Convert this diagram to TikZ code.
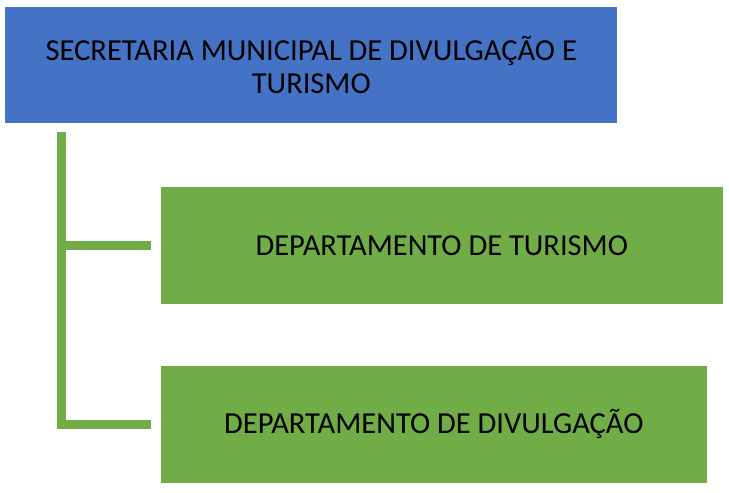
\documentclass[tikz,border=0pt]{standalone}
\usepackage{fontspec}
\setmainfont{Carlito}
\definecolor{officeblue}{HTML}{4472C4}
\definecolor{officegreen}{HTML}{70AD47}
\begin{document}
\begin{tikzpicture}[x=1pt,y=1pt,
   every node/.style={inner sep=0pt, outer sep=0pt, align=center,
                      font=\fontsize{30.5}{33}\selectfont},
   secbox/.style={fill=officeblue, minimum width=612pt, minimum height=115.4pt},
   depbox/.style={fill=officegreen, minimum height=117pt},
   ramo/.style={draw=officegreen, line width=9pt, line join=miter}]

\useasboundingbox (0,0) rectangle (729,493);

\node[secbox] (secretaria) at (311.3,428) {SECRETARIA MUNICIPAL DE DIVULGAÇÃO E\\TURISMO};
\node[depbox, minimum width=561.7pt] (turismo) at (441.8,247.5) {DEPARTAMENTO DE TURISMO};
\node[depbox, minimum width=545.7pt] (divulgacao) at (433.8,68.8) {DEPARTAMENTO DE DIVULGAÇÃO};

\coordinate (tronco) at (61.7,361);

\draw[ramo] (tronco) |- ([xshift=-10pt]divulgacao.west);
\draw[ramo] (tronco |- turismo.west) -- ([xshift=-10pt]turismo.west);

\end{tikzpicture}
\end{document}
